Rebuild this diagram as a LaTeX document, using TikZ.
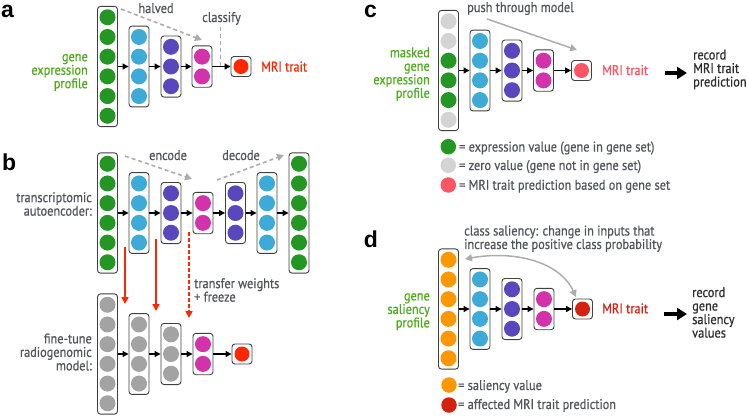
\documentclass[tikz,border=0pt]{standalone}
\usepackage{fontspec}
\setmainfont{PT Sans}[FakeStretch=0.88,FakeBold=0.7]
\newfontfamily\labfont{Liberation Sans}
\usetikzlibrary{arrows.meta}
\definecolor{cgreen}{RGB}{35,150,35}
\definecolor{ccyan}{RGB}{62,170,215}
\definecolor{cpurple}{RGB}{88,72,190}
\definecolor{cmag}{RGB}{210,50,170}
\definecolor{cred}{RGB}{255,38,0}
\definecolor{cgray}{RGB}{163,163,163}
\definecolor{clight}{RGB}{212,212,212}
\definecolor{cpink}{RGB}{255,85,100}
\definecolor{corange}{RGB}{255,152,0}
\definecolor{cdred}{RGB}{212,34,16}
\definecolor{tgray}{RGB}{82,86,92}
\definecolor{tgreen}{RGB}{80,170,30}
\definecolor{agray}{RGB}{172,172,172}
\newcommand{\netlayer}[5]{%
  \node[layerbox, minimum height={#4*19.7pt+2pt}] (#1) at (#2,#3) {};
  \foreach \cc [count=\ii] in {#5}{
    \node[unit, fill=\cc] (#1-\ii) at (#2, {#3-(#4*19.7)/2+(\ii-0.5)*19.7}) {};
  }
}
\newcommand{\outlayer}[4]{%
  \node[layerbox, minimum height=20pt] (#1) at (#2,#3) {};
  \node[outunit, fill=#4] (#1-1) at (#2,#3) {};
}
\begin{document}
\begin{tikzpicture}[x=1pt,y=-1pt,
  layerbox/.style={draw=black!75, line width=0.9pt, rounded corners=3pt, fill=white, minimum width=20pt, inner sep=0pt},
  unit/.style={circle, inner sep=0pt, minimum size=16pt, draw=none},
  outunit/.style={circle, inner sep=0pt, minimum size=15pt, draw=none},
  legunit/.style={circle, inner sep=0pt, minimum size=15.5pt, draw=none},
  conn/.style={-{Triangle[length=6pt,width=6pt]}, line width=1.2pt, black},
  bigarrow/.style={-{Triangle[length=10pt,width=12pt]}, line width=3.2pt, black},
  dasharrow/.style={-{Triangle[length=7pt,width=7pt]}, line width=1.6pt, agray, dash pattern=on 4pt off 3pt},
  grayarrow/.style={-{Triangle[length=7pt,width=7pt]}, line width=1.5pt, agray},
  redarrow/.style={-{Triangle[length=7pt,width=7pt]}, line width=1.6pt, cred},
  txt/.style={font=\fontsize{14}{13.5}\selectfont, text=tgray, inner sep=0pt},
  gtxt/.style={txt, text=tgreen, align=right},
  ltxt/.style={txt, align=left},
  rtxt/.style={txt, align=right},
  dtxt/.style={txt, text=black!82, align=left},
  panel/.style={font=\labfont\bfseries\fontsize{23}{23}\selectfont, inner sep=0pt, text=black}
]
\useasboundingbox (0,0) rectangle (747,416);

% ---------------- panel a ----------------
\node[panel, anchor=base west] (pa) at (1,17) {a};
\netlayer{a1}{107.5}{66.5}{6}{cgreen,cgreen,cgreen,cgreen,cgreen,cgreen}
\netlayer{a2}{139}{66.5}{4}{ccyan,ccyan,ccyan,ccyan}
\netlayer{a3}{171}{66.5}{3}{cpurple,cpurple,cpurple}
\netlayer{a4}{202}{66.5}{2}{cmag,cmag}
\outlayer{a5}{241}{66.5}{cred}
\foreach \p/\q in {a1/a2,a2/a3,a3/a4,a4/a5} \draw[conn] (\p) -- (\q);
\node[gtxt, anchor=east] (alab) at (88,72.5) {gene\\expression\\profile};
\node[txt, text=cred, anchor=base west] (amri) at (261,71.5) {MRI trait};
\node[txt, anchor=base] (ahalf) at (156,13) {halved};
\node[txt, anchor=base] (aclass) at (221.5,22) {classify};
\coordinate (ah1) at (121,9);
\coordinate (ah2) at (202,40);
\draw[dasharrow] (ah1) -- (ah2);
\coordinate (ac1) at (220.5,27);
\coordinate (ac2) at (220.5,66.5);
\draw[line width=1.6pt, agray, dash pattern=on 4pt off 3pt] (ac1) -- (ac2);

% ---------------- panel b ----------------
\node[panel, anchor=base west] (pb) at (2,170) {b};
\netlayer{b1}{107.5}{213}{6}{cgreen,cgreen,cgreen,cgreen,cgreen,cgreen}
\netlayer{b2}{139}{213}{4}{ccyan,ccyan,ccyan,ccyan}
\netlayer{b3}{171}{213}{3}{cpurple,cpurple,cpurple}
\netlayer{b4}{203}{213}{2}{cmag,cmag}
\netlayer{b5}{235.5}{213}{3}{cpurple,cpurple,cpurple}
\netlayer{b6}{267}{213}{4}{ccyan,ccyan,ccyan,ccyan}
\netlayer{b7}{299}{213}{6}{cgreen,cgreen,cgreen,cgreen,cgreen,cgreen}
\foreach \p/\q in {b1/b2,b2/b3,b3/b4,b4/b5,b5/b6,b6/b7} \draw[conn] (\p) -- (\q);
\node[rtxt, anchor=east] (blab) at (92,204) {transcriptomic\\autoencoder:};
\node[txt, anchor=base] (benc) at (168,160) {encode};
\node[txt, anchor=base] (bdec) at (241,160) {decode};
\coordinate (be1) at (125,156);
\coordinate (be2) at (192,179);
\draw[dasharrow] (be1) -- (be2);
\coordinate (bd1) at (217,180);
\coordinate (bd2) at (284,155);
\draw[dasharrow] (bd1) -- (bd2);

\netlayer{f1}{107.5}{354}{6}{cgray,cgray,cgray,cgray,cgray,cgray}
\netlayer{f2}{139}{354}{4}{cgray,cgray,cgray,cgray}
\netlayer{f3}{171}{354}{3}{cgray,cgray,cgray}
\netlayer{f4}{203}{354}{2}{cmag,cmag}
\outlayer{f5}{242}{354}{cred}
\foreach \p/\q in {f1/f2,f2/f3,f3/f4,f4/f5} \draw[conn] (\p) -- (\q);
\node[rtxt, anchor=east] (flab) at (92,352) {fine-tune\\radiogenomic\\model:};

\coordinate (r1a) at (125,247);
\coordinate (r1b) at (125,304);
\coordinate (r2a) at (156,239);
\coordinate (r2b) at (156,311);
\coordinate (r3a) at (189,232);
\coordinate (r3b) at (189,318);
\draw[redarrow] (r1a) -- (r1b);
\draw[redarrow] (r2a) -- (r2b);
\draw[redarrow, dash pattern=on 3.5pt off 2.5pt] (r3a) -- (r3b);
\node[ltxt, anchor=west] (btrans) at (194,290) {transfer weights\\+ freeze};

% ---------------- panel c ----------------
\node[panel, anchor=base east] (pc) at (377,17) {c};
\netlayer{c1}{448.5}{70.5}{6}{clight,clight,cgreen,cgreen,cgreen,clight}
\netlayer{c2}{480}{70.5}{4}{ccyan,ccyan,ccyan,ccyan}
\netlayer{c3}{512}{70.5}{3}{cpurple,cpurple,cpurple}
\netlayer{c4}{543.5}{70.5}{2}{cmag,cmag}
\outlayer{c5}{581.5}{70.5}{cpink}
\foreach \p/\q in {c1/c2,c2/c3,c3/c4,c4/c5} \draw[conn] (\p) -- (\q);
\node[gtxt, anchor=east] (clab) at (430,74) {masked\\gene\\expression\\profile};
\node[txt, text=cpink, anchor=base west] (cmri) at (602,75) {MRI trait};
\node[txt, anchor=base west] (cpush) at (467,12) {push through model};
\coordinate (cp1) at (487,19);
\coordinate (cp2) at (577,50);
\draw[grayarrow] (cp1) -- (cp2);
\coordinate (cb1) at (665,73);
\coordinate (cb2) at (687,73);
\draw[bigarrow] (cb1) -- (cb2);
\node[dtxt, anchor=west] (crec) at (693,69.5) {record\\MRI trait\\prediction};
\node[legunit, fill=cgreen] (lg1) at (448.3,146.7) {};
\node[legunit, fill=clight] (lg2) at (448.3,165.3) {};
\node[legunit, fill=cpink] (lg3) at (448.3,185) {};
\node[txt, anchor=base west] (lt1) at (459,151.5) {= expression value (gene in gene set)};
\node[txt, anchor=base west] (lt2) at (459,170) {= zero value (gene not in gene set)};
\node[txt, anchor=base west] (lt3) at (459,189.7) {= MRI trait prediction based on gene set};

% ---------------- panel d ----------------
\node[panel, anchor=base east] (pd) at (378,247) {d};
\netlayer{d1}{448.5}{309}{6}{corange,corange,corange,corange,corange,corange}
\netlayer{d2}{480}{309}{4}{ccyan,ccyan,ccyan,ccyan}
\netlayer{d3}{512}{309}{3}{cpurple,cpurple,cpurple}
\netlayer{d4}{544}{309}{2}{cmag,cmag}
\outlayer{d5}{582.5}{309}{cdred}
\foreach \p/\q in {d1/d2,d2/d3,d3/d4,d4/d5} \draw[conn] (\p) -- (\q);
\node[gtxt, anchor=east] (dlab) at (430,311.7) {gene\\saliency\\profile};
\node[txt, text=cdred, anchor=base west] (dmri) at (602,313.3) {MRI trait};
\node[ltxt, anchor=west] (dcls) at (464,238.7) {class saliency: change in inputs that\\increase the positive class probability};
\coordinate (dc1) at (465,259);
\coordinate (dc2) at (576,297);
\draw[{Triangle[length=7pt,width=7pt]}-{Triangle[length=7pt,width=7pt]}, line width=1.5pt, agray]
  (dc1) .. controls (515,250) and (560,262) .. (dc2);
\coordinate (db1) at (664,314);
\coordinate (db2) at (687,314);
\draw[bigarrow] (db1) -- (db2);
\node[dtxt, anchor=west] (drec) at (692,312.5) {record\\gene\\saliency\\values};
\node[legunit, fill=corange] (ld1) at (449,385) {};
\node[legunit, fill=cdred] (ld2) at (449,405) {};
\node[txt, anchor=base west] (ldt1) at (458,390) {= saliency value};
\node[txt, anchor=base west] (ldt2) at (458,409) {= affected MRI trait prediction};
\end{tikzpicture}
\end{document}
